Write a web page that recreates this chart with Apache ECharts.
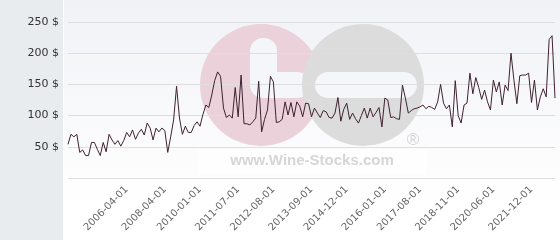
<!DOCTYPE html>
<html><head><meta charset="utf-8">
<script src="https://cdn.jsdelivr.net/npm/echarts@6/dist/echarts.min.js"></script>
<style>html,body{margin:0;padding:0;background:#fff}#c{width:560px;height:240px}</style>
</head><body><div id="c"></div>
<script>
const prices = [
 54,70,66,70,41,45,36,36,57,57,46,36,57,42,70,61,54,60,51,60,73,66,77,62,72,78,69,88,80,61,80,74,80,
 76,41,66,93,147,96,70,83,73,73,
 84,90,83,102,117,113,133,156,170,163,112,97,101,96,145,98,165,87,87,85,90,96,155,
 74,94,109,163,154,89,90,94,122,101,121,98,122,115,98,120,119,98,
 112,104,97,108,106,97,96,104,129,
 91,110,120,94,104,95,88,100,112,96,112,98,105,113,82,128,125,97,98,95,94,149,
 128,104,108,111,112,114,117,111,115,113,110,122,150,
 120,111,117,82,156,100,88,117,120,168,135,161,145,126,141,122,109,157,138,154,117,149,140,200,
 157,119,164,165,165,168,121,157,109,130,143,130,222,228,128
];
const tickLabels = ['2006-04-01','2008-04-01','2010-01-01','2011-07-01','2012-08-01','2013-09-01','2014-12-01','2016-01-01','2017-08-01','2018-11-01','2020-06-01','2021-12-01'];
const tickIndex = [20,33,45,58,70,83,95,108,120,133,145,158];
const yTicks = [0,50,100,150,200,250];

const categories = prices.map(() => '');
tickIndex.forEach((idx, i) => { categories[idx] = tickLabels[i]; });

const chart = echarts.init(document.getElementById('c'), null, {renderer: 'canvas'});
chart.setOption({
  animation: false,
  grid: {left: 68, right: 5, top: 22, bottom: 62, containLabel: false},
  graphic: [
    {type: 'rect', z: 0, shape: {x: 0, y: 0, width: 63, height: 240}, style: {fill: '#e8ecef'}},
    {type: 'rect', z: 0, shape: {x: 64, y: 0, width: 496, height: 240},
     style: {fill: new echarts.graphic.LinearGradient(0, 0, 0, 1, [{offset: 0, color: '#f1f2f6'}, {offset: 0.85, color: '#ffffff'}, {offset: 1, color: '#ffffff'}])}},
    {type: 'circle', z: 1, shape: {cx: 261, cy: 85, r: 61}, style: {fill: '#ebd1d9'}},
    {type: 'rect', z: 1, shape: {x: 250, y: 38, width: 27, height: 55, r: 13}, style: {fill: '#f5f6f9'}},
    {type: 'rect', z: 1, shape: {x: 250, y: 72, width: 60, height: 26, r: 13}, style: {fill: '#f5f6f9'}},
    {type: 'circle', z: 1, shape: {cx: 363, cy: 85, r: 61}, style: {fill: '#dcdcdc'}},
    {type: 'rect', z: 1, shape: {x: 315, y: 72, width: 102, height: 26, r: 13}, style: {fill: '#f5f6f9'}},
    {type: 'rect', z: 1, shape: {x: 198, y: 150, width: 229, height: 24}, style: {fill: '#ffffff', opacity: 0.7}},
    {type: 'text', z: 1, x: 312, y: 161, style: {text: 'www.Wine-Stocks.com', fill: '#d6d6d6', font: 'bold 15px "Liberation Sans", Arial, sans-serif', textAlign: 'center', textVerticalAlign: 'middle'}},
    {type: 'text', z: 1, x: 413, y: 140, style: {text: '®', fill: '#d4d4d4', font: '17px "Liberation Sans", Arial, sans-serif', textAlign: 'center', textVerticalAlign: 'middle'}}
  ],
  xAxis: {
    type: 'category', data: categories, boundaryGap: false, z: 3,
    axisLine: {show: false}, axisTick: {show: false}, splitLine: {show: false},
    axisLabel: {interval: 0, rotate: 45, margin: 10, color: '#666', fontSize: 10, fontFamily: 'DejaVu Sans'}
  },
  yAxis: {
    type: 'value', min: yTicks[0], max: yTicks[yTicks.length - 1], interval: 50, z: 3,
    axisLine: {show: false}, axisTick: {show: false},
    splitLine: {lineStyle: {color: '#dedede', width: 1}},
    axisLabel: {showMinLabel: false, margin: 9, color: '#333', fontSize: 11, fontFamily: 'DejaVu Sans', formatter: v => v + ' $'}
  },
  series: [{
    type: 'line', data: prices, z: 4, symbol: 'none', smooth: false,
    lineStyle: {color: '#3f2230', width: 1}
  }]
});
</script></body></html>
